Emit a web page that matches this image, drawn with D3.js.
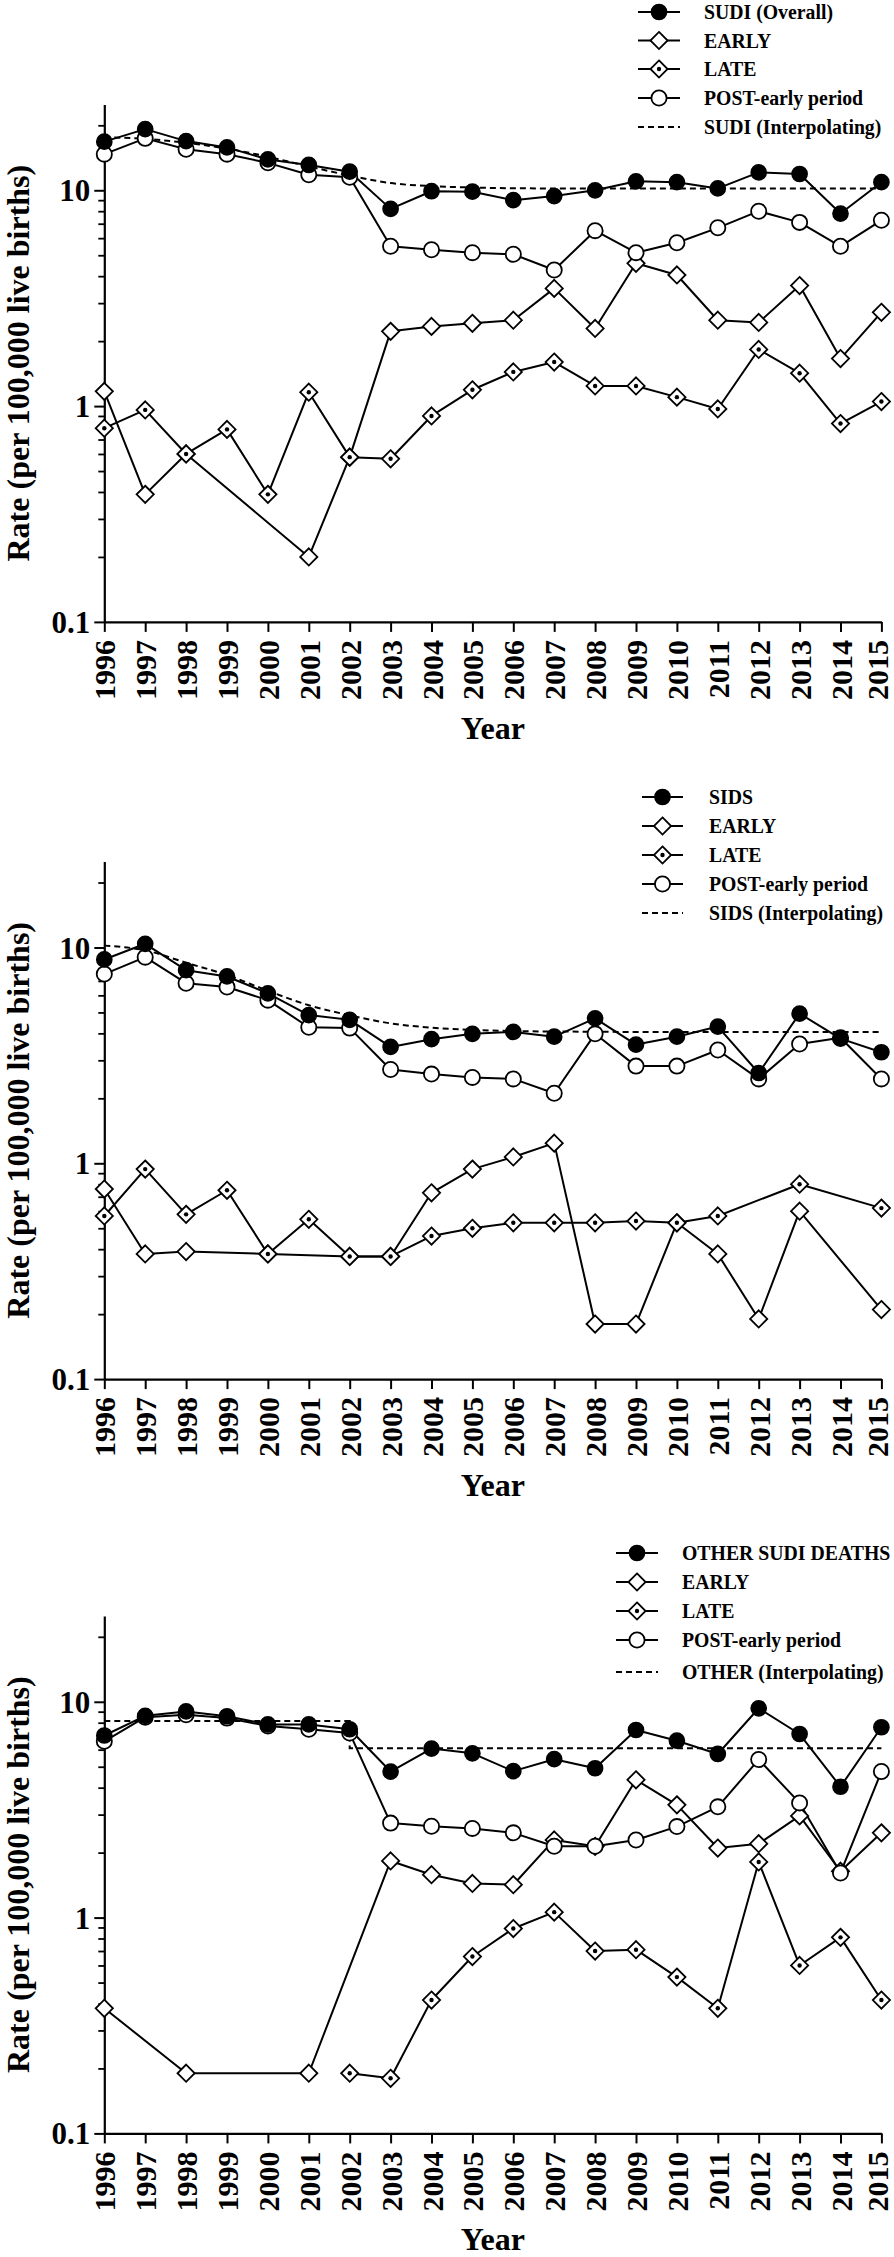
<!DOCTYPE html>
<html>
<head>
<meta charset="utf-8">
<script src="https://cdn.jsdelivr.net/npm/d3@7"></script>
<style>
  html, body { margin: 0; padding: 0; background: #fff; }
  svg text { font-family: "Liberation Serif", "Times New Roman", serif; font-weight: bold; fill: #000; }
</style>
</head>
<body>
<svg id="chart" width="894" height="2257"></svg>
<script>
// ---------------- DATA ----------------
const years = [1996,1997,1998,1999,2000,2001,2002,2003,2004,2005,2006,2007,2008,2009,2010,2011,2012,2013,2014,2015];
const yMajorTicks = [0.1, 1, 10];
const yTickLabels = ["0.1", "1", "10"];

// Panel 1: SUDI
const sudiOverall = [16.8,19.2,16.9,15.8,13.9,13.1,12.2,8.2,9.9,9.85,9.0,9.4,10.0,11.0,10.9,10.2,12.1,11.9,7.8,10.9];
const sudiEarly   = [1.17,0.39,0.60,null,null,0.20,0.58,2.22,2.34,2.42,2.50,3.51,2.29,4.59,4.05,2.50,2.44,3.62,1.66,2.72];
const sudiLate    = [0.79,0.96,0.60,0.78,0.39,1.16,0.58,0.57,0.90,1.19,1.44,1.60,1.24,1.24,1.10,0.97,1.83,1.42,0.83,1.05];
const sudiPost    = [14.7,17.4,15.5,14.7,13.4,11.8,11.5,5.5,5.3,5.14,5.05,4.27,6.5,5.14,5.71,6.7,8.0,7.1,5.5,7.26];
const sudiInterp  = [17.6,17.3,16.6,15.6,14.3,12.9,11.7,10.8,10.45,10.3,10.22,10.2,10.2,10.2,10.2,10.2,10.2,10.2,10.2,10.2];

// Panel 2: SIDS
const sidsOverall = [8.8,10.4,7.85,7.34,6.13,4.86,4.62,3.46,3.76,3.98,4.06,3.86,4.69,3.55,3.86,4.30,2.62,4.94,3.78,3.27];
const sidsEarly   = [0.76,0.38,0.39,null,0.38,null,0.37,0.37,0.73,0.94,1.07,1.24,0.18,0.18,0.53,0.38,0.19,0.60,null,0.21];
const sidsLate    = [0.57,0.94,0.58,0.75,0.38,0.55,0.37,0.37,0.46,0.50,0.53,0.53,0.53,0.54,0.53,0.57,null,0.80,null,0.62];
const sidsPost    = [7.53,9.02,6.83,6.56,5.70,4.27,4.23,2.72,2.59,2.50,2.46,2.11,3.98,2.82,2.82,3.35,2.46,3.57,3.82,2.46];
const sidsInterp  = [10.2,9.7,8.5,7.45,6.3,5.4,4.85,4.45,4.25,4.15,4.1,4.08,4.07,4.06,4.06,4.06,4.06,4.06,4.06,4.06];

// Panel 3: OTHER SUDI DEATHS
const otherOverall = [6.98,8.61,9.02,8.57,7.85,7.85,7.46,4.75,6.07,5.77,4.77,5.42,4.92,7.40,6.60,5.73,9.33,7.09,4.04,7.62];
const otherEarly   = [0.38,null,0.19,null,null,0.19,null,1.83,1.58,1.44,1.42,2.29,2.14,4.35,3.33,2.10,2.20,2.96,1.64,2.47];
const otherLate    = [null,null,null,null,null,null,0.19,0.18,0.415,0.66,0.89,1.06,0.70,0.71,0.53,0.38,1.81,0.60,0.81,0.415];
const otherPost    = [6.56,8.48,8.7,8.4,7.73,7.46,7.16,2.74,2.65,2.59,2.47,2.14,2.14,2.29,2.64,3.26,5.4,3.4,1.61,4.75];
// segmental (step) interpolation: [year, value] pairs
const otherInterpYears  = [1996, 2002, 2002, 2015];
const otherInterpValues = [8.15, 8.15, 6.09, 6.09];

const legend1 = ["SUDI (Overall)", "EARLY", "LATE", "POST-early period", "SUDI (Interpolating)"];
const legend2 = ["SIDS", "EARLY", "LATE", "POST-early period", "SIDS (Interpolating)"];
const legend3 = ["OTHER SUDI DEATHS", "EARLY", "LATE", "POST-early period", "OTHER (Interpolating)"];

const yLabel = "Rate (per 100,000 live births)";
const xLabel = "Year";

// ---------------- LAYOUT ----------------
const svg = d3.select("#chart");
svg.append("rect").attr("width", 894).attr("height", 2257).attr("fill", "#fff");

const xLeft = 104.3, xRight = 881.4;
const plotH = 517.5;
const panels = [
  { top: 104.4, overall: sudiOverall, early: sudiEarly, late: sudiLate, post: sudiPost,
    interp: years.map((y, i) => ({ x: y, v: sudiInterp[i] })), curve: d3.curveMonotoneX,
    legend: legend1, legendRows: [12, 40.5, 69, 98, 127], legX1: 638, legX2: 680, legText: 704 },
  { top: 861.6, overall: sidsOverall, early: sidsEarly, late: sidsLate, post: sidsPost,
    interp: years.map((y, i) => ({ x: y, v: sidsInterp[i] })), curve: d3.curveMonotoneX,
    legend: legend2, legendRows: [797, 826, 855, 884, 913], legX1: 642, legX2: 683, legText: 709 },
  { top: 1615.9, overall: otherOverall, early: otherEarly, late: otherLate, post: otherPost,
    interp: otherInterpYears.map((y, i) => ({ x: y, v: otherInterpValues[i] })), curve: d3.curveLinear,
    legend: legend3, legendRows: [1553, 1582, 1611, 1640, 1672], legX1: 616, legX2: 658, legText: 682 }
];

const x = d3.scaleLinear().domain([1996, 2015]).range([xLeft, xRight]);

const diamondPath = h => `M0,${-h}L${h},0L0,${h}L${-h},0Z`;
const DH = 8.6, CR = 7.6;

function drawMarker(g, type, cx, cy) {
  if (type === "overall") {
    g.append("circle").attr("cx", cx).attr("cy", cy).attr("r", CR).attr("fill", "#000").attr("stroke", "#000").attr("stroke-width", 1.5);
  } else if (type === "post") {
    g.append("circle").attr("cx", cx).attr("cy", cy).attr("r", CR).attr("fill", "#fff").attr("stroke", "#000").attr("stroke-width", 1.8);
  } else if (type === "early" || type === "late") {
    g.append("path").attr("d", diamondPath(DH)).attr("transform", `translate(${cx},${cy})`)
      .attr("fill", "#fff").attr("stroke", "#000").attr("stroke-width", 1.8);
    if (type === "late") {
      g.append("circle").attr("cx", cx).attr("cy", cy).attr("r", 2.2).attr("fill", "#000");
    }
  }
}

panels.forEach(p => {
  const y = d3.scaleLog().domain([0.1, 25]).range([p.top + plotH, p.top]);
  const g = svg.append("g");
  const bottom = p.top + plotH;

  // axes
  const yAxis = d3.axisLeft(y).tickValues(yMajorTicks).tickSize(10).tickSizeOuter(0)
    .tickFormat((d, i) => yTickLabels[i]).tickPadding(4);
  const ya = g.append("g").attr("transform", `translate(${xLeft},0)`).call(yAxis);
  ya.select(".domain").attr("stroke-width", 2.2);
  ya.selectAll(".tick line").attr("stroke-width", 2);
  ya.selectAll(".tick text").style("font-size", "31px").attr("dy", "0.34em");

  const minors = [];
  [0.1, 1, 10].forEach(dec => { for (let k = 2; k <= 9; k++) { const v = dec * k; if (v <= 25) minors.push(v); } });
  const ym = g.append("g").attr("transform", `translate(${xLeft},0)`)
    .call(d3.axisLeft(y).tickValues(minors).tickSize(6).tickSizeOuter(0).tickFormat(""));
  ym.select(".domain").remove();
  ym.selectAll(".tick line").attr("stroke-width", 1.8);

  const xAxis = d3.axisBottom(x).tickValues(years).tickSize(10).tickSizeOuter(0).tickFormat(d3.format("d"));
  const xa = g.append("g").attr("transform", `translate(0,${bottom})`).call(xAxis);
  xa.select(".domain").attr("stroke-width", 2.2);
  xa.selectAll(".tick line").attr("stroke-width", 2);
  const nYears = years.length;
  xa.selectAll(".tick text")
    .style("font-size", "30px")
    .attr("text-anchor", "end")
    .attr("dy", null)
    .attr("y", null)
    .attr("dominant-baseline", "central")
    .attr("transform", (d, i) => `translate(${i === nYears - 1 ? -4 : 0},18) rotate(-90)`);

  // axis titles
  g.append("text").attr("transform", `translate(29,${(p.top + bottom) / 2}) rotate(-90)`)
    .attr("text-anchor", "middle").style("font-size", "32px").text(yLabel);
  g.append("text").attr("x", (xLeft + xRight) / 2).attr("y", bottom + 117)
    .attr("text-anchor", "middle").style("font-size", "32px").text(xLabel);

  // series
  const toPts = arr => years.map((yr, i) => ({ x: yr, v: arr[i] })).filter(d => d.v != null);
  const line = d3.line().x(d => x(d.x)).y(d => y(d.v));
  const series = [
    { type: "early", pts: toPts(p.early) },
    { type: "late", pts: toPts(p.late) },
    { type: "post", pts: toPts(p.post) },
    { type: "overall", pts: toPts(p.overall) }
  ];
  series.forEach(s => {
    g.append("path").datum(s.pts).attr("d", line).attr("fill", "none")
      .attr("stroke", "#000").attr("stroke-width", 2).attr("stroke-linejoin", "round");
  });
  g.append("path").datum(p.interp)
    .attr("d", d3.line().x(d => x(d.x)).y(d => y(d.v)).curve(p.curve))
    .attr("fill", "none").attr("stroke", "#000").attr("stroke-width", 2).attr("stroke-dasharray", "6,4");
  series.forEach(s => {
    s.pts.forEach(d => drawMarker(g, s.type, x(d.x), y(d.v)));
  });

  // legend
  const types = ["overall", "early", "late", "post", "interp"];
  types.forEach((t, i) => {
    const ry = p.legendRows[i];
    if (t === "interp") {
      g.append("line").attr("x1", p.legX1).attr("x2", p.legX2).attr("y1", ry).attr("y2", ry)
        .attr("stroke", "#000").attr("stroke-width", 2).attr("stroke-dasharray", "6,4");
    } else {
      g.append("line").attr("x1", p.legX1).attr("x2", p.legX2).attr("y1", ry).attr("y2", ry)
        .attr("stroke", "#000").attr("stroke-width", 2);
      drawMarker(g, t, (p.legX1 + p.legX2) / 2, ry);
    }
    g.append("text").attr("transform", `translate(${p.legText},${ry}) scale(0.92,1)`)
      .attr("dy", "0.34em").style("font-size", "21.5px").text(p.legend[i]);
  });
});
</script>
</body>
</html>
